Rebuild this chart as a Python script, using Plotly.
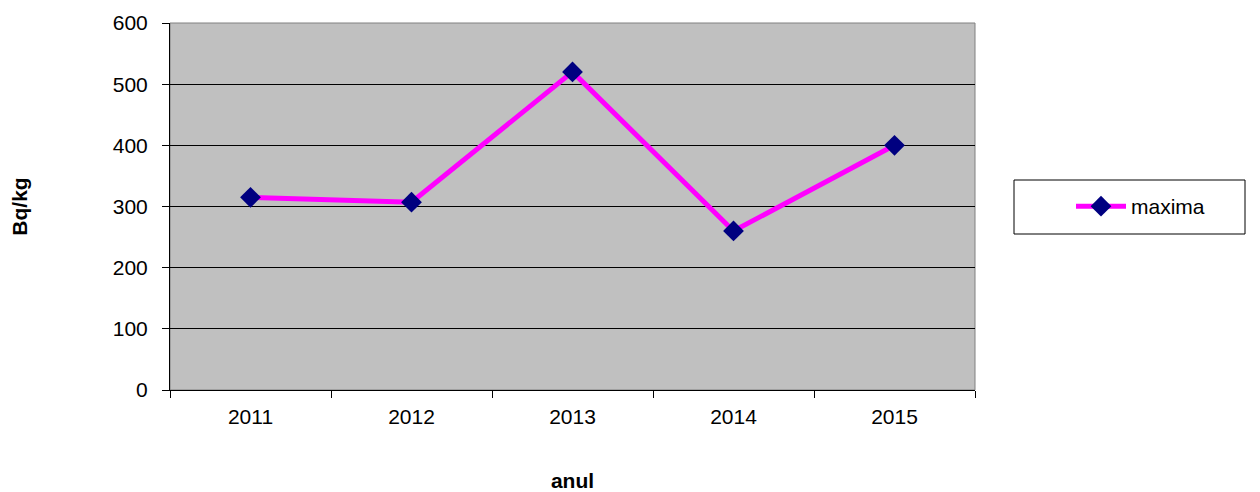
import plotly.graph_objects as go

years = ["2011", "2012", "2013", "2014", "2015"]
maxima = [315, 307, 520, 260, 400]
y_ticks = [0, 100, 200, 300, 400, 500, 600]

# page coordinates of the plot area (page has an 8px body margin)
OFF = 8
L, R, T, B = 170, 975, 23, 390
W, H = 1260 - OFF, 492 - OFF

def px(x):
    return (x - L) / (R - L)

def py(y):
    return (B - y) / (B - T)

FONT = 21

fig = go.Figure()
fig.add_trace(go.Scatter(
    x=years, y=maxima, name="maxima", mode="lines+markers",
    line=dict(color="#FF00FF", width=5),
    marker=dict(symbol="diamond", size=16, color="#000080",
                line=dict(color="#000080", width=0)),
))

fig.add_shape(type="rect", xref="paper", yref="paper",
              x0=px(1014), x1=px(1245), y0=py(234), y1=py(180),
              line=dict(color="black", width=1), fillcolor="white", layer="below")

fig.update_layout(
    width=W, height=H,
    margin=dict(l=L - OFF, r=W - (R - OFF), t=T - OFF, b=H - (B - OFF)),
    paper_bgcolor="white", plot_bgcolor="#C0C0C0",
    font=dict(family="Liberation Sans, Arial, sans-serif", size=FONT, color="black"),
    showlegend=True,
    legend=dict(x=px(1071), y=py(186), xanchor="left", yanchor="top",
                bgcolor="rgba(0,0,0,0)", borderwidth=0, itemwidth=50,
                font=dict(size=FONT)),
    xaxis=dict(type="category", range=[-0.5, 4.5], tickson="boundaries",
               ticks="outside", ticklen=7, ticklabelstandoff=8, automargin=False,
               tickcolor="black", showline=True, linecolor="black", linewidth=1,
               mirror=False, showgrid=False, tickfont=dict(size=FONT),
               title=dict(text="<b>anul</b>", standoff=48, font=dict(size=FONT))),
    yaxis=dict(range=[0, 600], tickvals=y_ticks, ticks="outside", ticklen=7,
               ticklabelstandoff=10, automargin=False,
               tickcolor="black", showline=True, linecolor="black", linewidth=1,
               showgrid=True, gridcolor="black", gridwidth=1, zeroline=False,
               tickfont=dict(size=FONT),
               title=dict(text="<b>Bq/kg</b>", standoff=84, font=dict(size=FONT))),
)

# plot area top/right border in gray
fig.add_shape(type="rect", xref="paper", yref="paper", x0=0, x1=1, y0=0, y1=1,
              line=dict(color="#808080", width=1), layer="below")

fig.write_html("out.html")
